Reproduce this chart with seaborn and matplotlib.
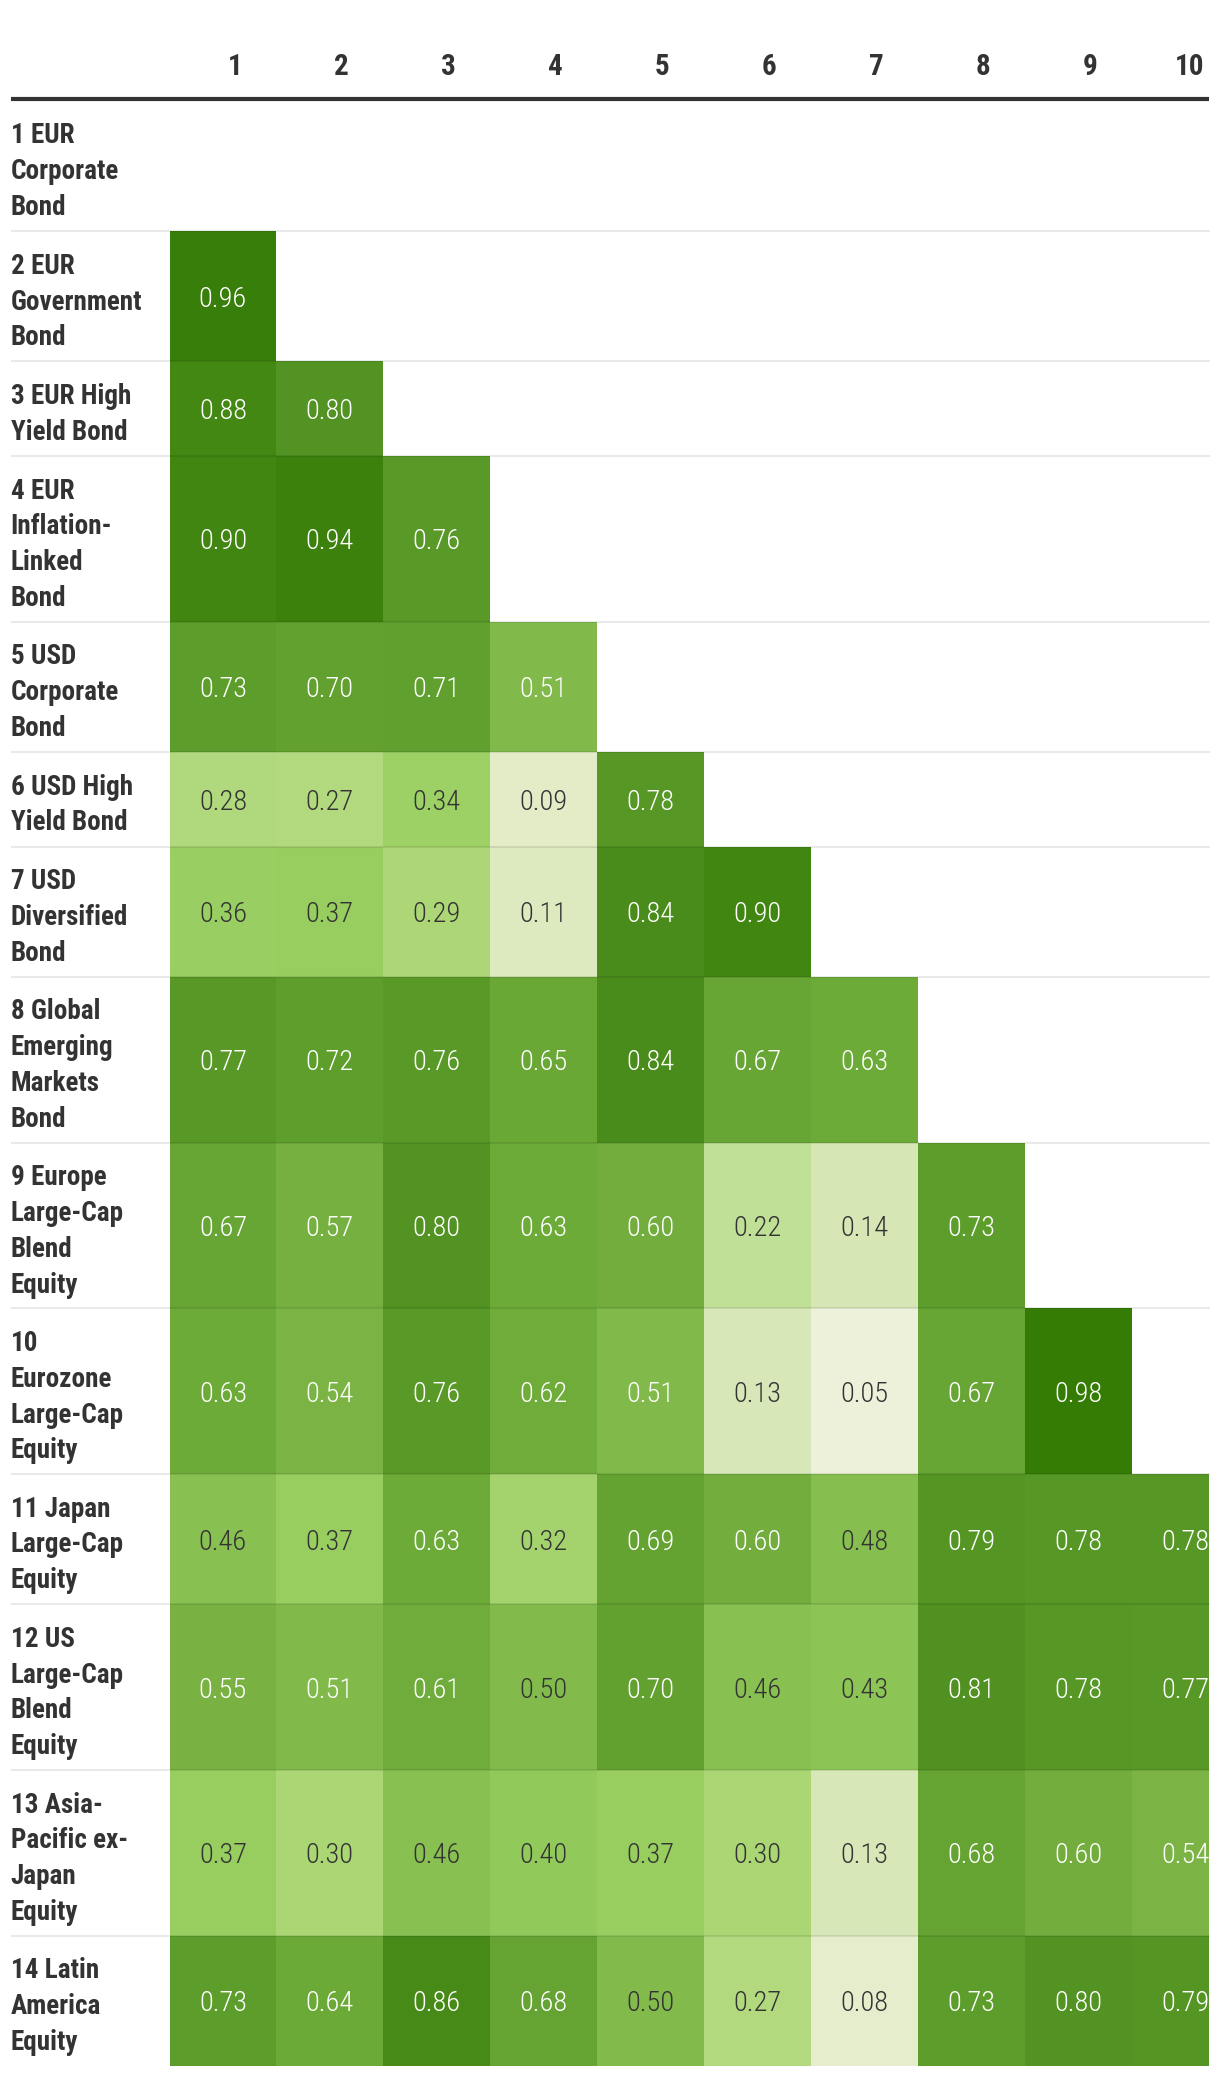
import numpy as np
import pandas as pd
import seaborn as sns
import matplotlib
matplotlib.use("Agg")
import matplotlib.pyplot as plt
from matplotlib import font_manager
from matplotlib.colors import LinearSegmentedColormap
from matplotlib.lines import Line2D

# ---------------- data ----------------
row_labels = [
    "1 EUR\nCorporate\nBond",
    "2 EUR\nGovernment\nBond",
    "3 EUR High\nYield Bond",
    "4 EUR\nInflation-\nLinked\nBond",
    "5 USD\nCorporate\nBond",
    "6 USD High\nYield Bond",
    "7 USD\nDiversified\nBond",
    "8 Global\nEmerging\nMarkets\nBond",
    "9 Europe\nLarge-Cap\nBlend\nEquity",
    "10\nEurozone\nLarge-Cap\nEquity",
    "11 Japan\nLarge-Cap\nEquity",
    "12 US\nLarge-Cap\nBlend\nEquity",
    "13 Asia-\nPacific ex-\nJapan\nEquity",
    "14 Latin\nAmerica\nEquity",
]
col_labels = ["1", "2", "3", "4", "5", "6", "7", "8", "9", "10"]

r1 = []
r2 = [0.96]
r3 = [0.88, 0.80]
r4 = [0.90, 0.94, 0.76]
r5 = [0.73, 0.70, 0.71, 0.51]
r6 = [0.28, 0.27, 0.34, 0.09, 0.78]
r7 = [0.36, 0.37, 0.29, 0.11, 0.84, 0.90]
r8 = [0.77, 0.72, 0.76, 0.65, 0.84, 0.67, 0.63]
r9 = [0.67, 0.57, 0.80, 0.63, 0.60, 0.22, 0.14, 0.73]
r10 = [0.63, 0.54, 0.76, 0.62, 0.51, 0.13, 0.05, 0.67, 0.98]
r11 = [0.46, 0.37, 0.63, 0.32, 0.69, 0.60, 0.48, 0.79, 0.78, 0.78]
r12 = [0.55, 0.51, 0.61, 0.50, 0.70, 0.46, 0.43, 0.81, 0.78, 0.77]
r13 = [0.37, 0.30, 0.46, 0.40, 0.37, 0.30, 0.13, 0.68, 0.60, 0.54]
r14 = [0.73, 0.64, 0.86, 0.68, 0.50, 0.27, 0.08, 0.73, 0.80, 0.79]
rows_values = [r1, r2, r3, r4, r5, r6, r7, r8, r9, r10, r11, r12, r13, r14]

# ---------------- fonts ----------------
available = {f.name for f in font_manager.fontManager.ttflist}
narrow = None
for cand in ["Roboto Condensed", "Liberation Sans Narrow", "Open Sans Condensed"]:
    if cand in available:
        narrow = cand
        break
if narrow is None:
    narrow = "Roboto"

sns.set_theme(style="white")
plt.rcParams["font.family"] = [narrow, "DejaVu Sans"]

# ---------------- matrix ----------------
n_rows = len(row_labels)
n_cols = len(col_labels)
mat = np.full((n_rows, n_cols), np.nan)
for i, vals in enumerate(rows_values):
    for j, v in enumerate(vals):
        mat[i, j] = v

# row heights in units (label lines -> units)
lines = [lab.count("\n") + 1 for lab in row_labels]
unit_map = {2: 8, 3: 11, 4: 14}
units = [unit_map[n] for n in lines]
row_index = np.repeat(np.arange(n_rows), units)
expanded = pd.DataFrame(mat[row_index, :], columns=col_labels)
mask = expanded.isna()
total_units = sum(units)
row_tops = np.concatenate([[0], np.cumsum(units)[:-1]])
row_centers = row_tops + np.array(units) / 2.0

stops = [
    (0.00, "#f3f6e4"), (0.05, "#edf1d9"), (0.10, "#e0eac3"), (0.13, "#d8e7b8"),
    (0.22, "#c0df97"), (0.28, "#b0d87b"), (0.34, "#9dd065"), (0.40, "#92c95b"),
    (0.46, "#89c052"), (0.51, "#81ba4b"), (0.55, "#79b243"), (0.60, "#72ad3e"),
    (0.63, "#6dab38"), (0.67, "#67a634"), (0.73, "#5d9d2b"), (0.78, "#569726"),
    (0.84, "#4b8c1c"), (0.90, "#418611"), (0.96, "#387e0a"), (1.00, "#327a00"),
]
cmap = LinearSegmentedColormap.from_list("greens_custom", stops)

# ---------------- figure ----------------
W, H = 1220, 2076
fig = plt.figure(figsize=(W / 100, H / 100), dpi=100)
fig.patch.set_facecolor("white")

x_left_px, x_right_px = 169.5, 1209
col_w_px = 106.9
y_top_px, y_bot_px = 101, 2066
ax = fig.add_axes([x_left_px / W, 1 - y_bot_px / H,
                   (x_right_px - x_left_px) / W, (y_bot_px - y_top_px) / H])

sns.heatmap(expanded, mask=mask, cmap=cmap, vmin=0, vmax=1, cbar=False,
            xticklabels=False, yticklabels=False, linewidths=0, ax=ax)
ax.set_xlim(0, (x_right_px - x_left_px) / col_w_px)
ax.set_ylim(total_units, 0)
ax.set_xlabel("")
ax.set_ylabel("")
for s in ax.spines.values():
    s.set_visible(False)

px_per_unit = (y_bot_px - y_top_px) / total_units
label_x = (10.6 - x_left_px) / col_w_px

# horizontal separators
for k in range(1, n_rows):
    yb = row_tops[k]
    ax.plot([label_x, 9.73], [yb, yb], color="black", alpha=0.085, lw=1.5,
            clip_on=False, zorder=5, solid_capstyle="butt")

# row labels
for i, lab in enumerate(row_labels):
    for li, line in enumerate(lab.split("\n")):
        y = row_tops[i] + (42.5 + li * 35.8) / px_per_unit
        ax.text(label_x, y, line, ha="left", va="baseline", fontsize=19.5,
                fontweight="bold", color="#333333", clip_on=False)

# cell values
for i in range(n_rows):
    for j in range(n_cols):
        v = mat[i, j]
        if np.isnan(v):
            continue
        ax.text(j + 0.5, row_centers[i], f"{v:.2f}", ha="center", va="center_baseline",
                fontsize=20.5, fontweight="light",
                color="white" if v > 0.5 else "#333333", zorder=6)

# column header labels
for j, lab in enumerate(col_labels):
    ax.text(j + 0.5 + 0.18, -(y_top_px - 64) / px_per_unit, lab, ha="right",
            va="center_baseline", fontsize=21, fontweight="bold", color="#333333",
            clip_on=False)

# header rule
fig.add_artist(Line2D([10.6 / W, 1209 / W], [1 - 99 / H, 1 - 99 / H],
                      color="#333333", lw=3.0, solid_capstyle="butt"))

fig.savefig("out.png", dpi=100, facecolor="white")
